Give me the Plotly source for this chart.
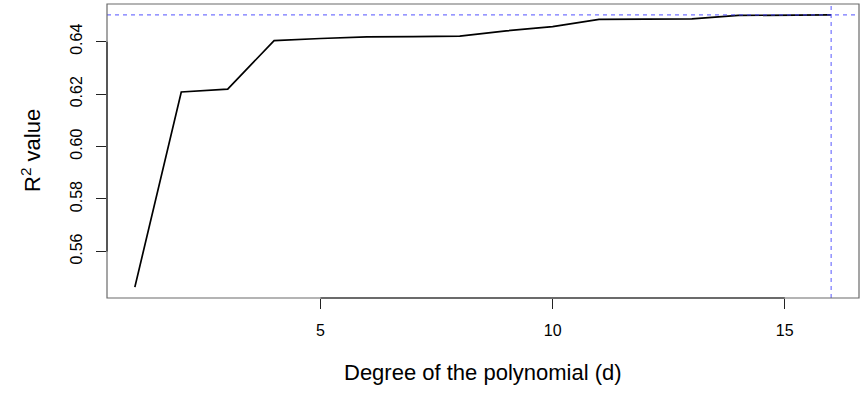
import plotly.graph_objects as go

degree = list(range(1, 17))
r2_values = [0.5464, 0.6208, 0.6219, 0.6404, 0.6412, 0.6418, 0.6419, 0.6421,
             0.6441, 0.6457, 0.6485, 0.6486, 0.6487, 0.6500, 0.6501, 0.6502]
x_ticks = [5, 10, 15]
y_ticks = [0.56, 0.58, 0.60, 0.62, 0.64]
x_title = "Degree of the polynomial (d)"
y_title = "R<sup>2</sup> value"

best_r2 = max(r2_values)
best_d = degree[r2_values.index(best_r2)]

def r_range(vals):
    lo, hi = min(vals), max(vals)
    pad = 0.04 * (hi - lo)
    return [lo - pad, hi + pad]

xr = r_range(degree)
yr = r_range(r2_values)

FONT = "Liberation Sans, Arial, Helvetica, sans-serif"
DASH_COL = "rgba(70,70,255,0.75)"

fig = go.Figure()
fig.add_trace(go.Scatter(x=degree, y=r2_values, mode="lines",
                         line=dict(color="black", width=1.7), showlegend=False,
                         hoverinfo="x+y"))

# reference lines
fig.add_hline(y=best_r2, line=dict(color=DASH_COL, width=1.2, dash="4px,4px"))
fig.add_vline(x=best_d, line=dict(color=DASH_COL, width=1.2, dash="4px,4px"))

# box around plot area
fig.add_shape(type="rect", xref="paper", yref="paper", x0=0, y0=0, x1=1, y1=1,
              line=dict(color="#6a6a6a", width=1.2), fillcolor="rgba(0,0,0,0)", layer="above")
# R style axis segments from first to last tick
fig.add_shape(type="line", xref="x", yref="paper", x0=x_ticks[0], x1=x_ticks[-1], y0=0, y1=0,
              line=dict(color="#222", width=1.2), layer="above")
fig.add_shape(type="line", xref="paper", yref="y", x0=0, x1=0, y0=y_ticks[0], y1=y_ticks[-1],
              line=dict(color="#222", width=1.2), layer="above")

fig.update_xaxes(range=xr, tickmode="array", tickvals=x_ticks,
                 ticktext=[str(v) for v in x_ticks],
                 ticks="outside", ticklen=10, tickcolor="#222", tickwidth=1,
                 showgrid=False, zeroline=False, showline=False, automargin=False,
                 tickfont=dict(family=FONT, size=16, color="black"),
                 ticklabelstandoff=8)
fig.update_yaxes(range=yr, tickmode="array", tickvals=y_ticks,
                 ticktext=[f"{v:.2f}" for v in y_ticks],
                 ticks="outside", ticklen=10, tickcolor="#222", tickwidth=1,
                 showgrid=False, zeroline=False, showline=False, tickangle=-90,
                 automargin=False,
                 tickfont=dict(family=FONT, size=16, color="black"),
                 ticklabelstandoff=8)

fig.add_annotation(text=x_title, xref="paper", yref="paper", x=0.5, y=0,
                   xanchor="center", yanchor="middle", yshift=-74, showarrow=False,
                   font=dict(family=FONT, size=22, color="black"))
fig.add_annotation(text=y_title, xref="paper", yref="paper", x=0, y=0.5,
                   xanchor="center", yanchor="middle", xshift=-76, textangle=-90,
                   showarrow=False, font=dict(family=FONT, size=22, color="black"))

fig.update_layout(width=864, height=396,
                  margin=dict(l=107, r=5, t=4, b=98),
                  paper_bgcolor="white", plot_bgcolor="white",
                  font=dict(family=FONT, color="black"))

fig.write_html("out.html", config={"displayModeBar": False},
               post_script="document.body.style.margin='0';document.body.style.overflow='hidden';")
